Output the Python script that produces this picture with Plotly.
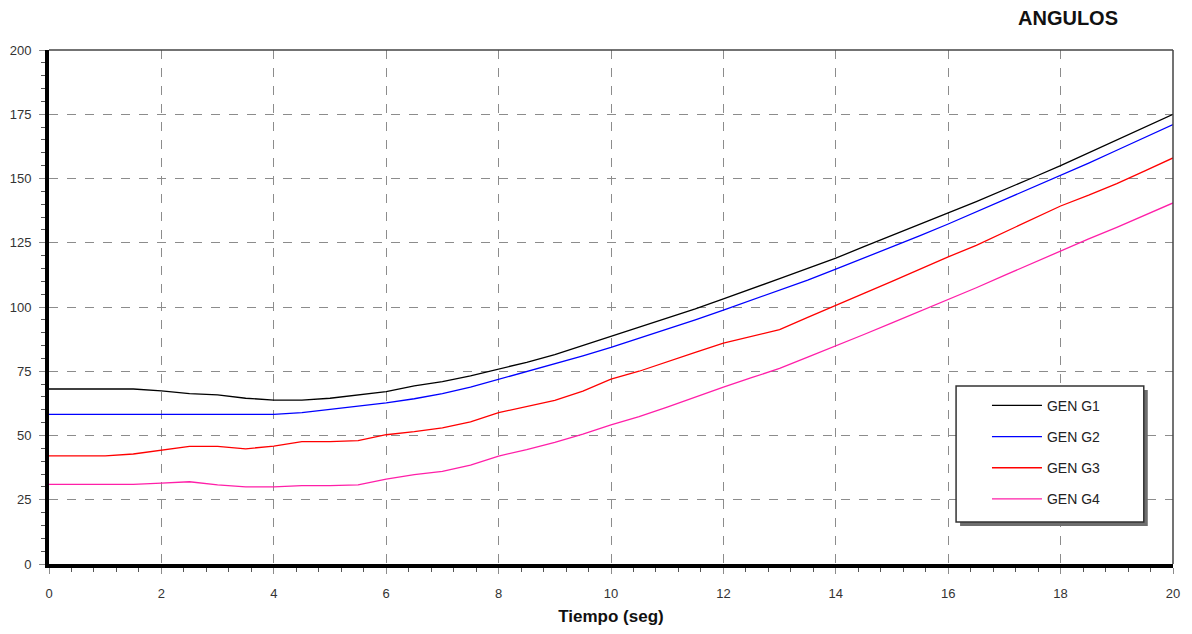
import plotly.graph_objects as go

# ---- data ----
tiempo = [0, 0.5, 1, 1.5, 2, 2.5, 3, 3.5, 4, 4.5, 5, 5.5, 6, 6.5, 7, 7.5, 8, 8.5, 9, 9.5,
          10, 10.5, 11, 11.5, 12, 12.5, 13, 13.5, 14, 14.5, 15, 15.5, 16, 16.5, 17, 17.5,
          18, 18.5, 19, 19.5, 20]

gen_g1 = [68.1, 68.1, 68.1, 68.1, 67.4, 66.3, 65.8, 64.5, 63.8, 63.8, 64.5, 65.8, 67.1, 69.3,
          71.0, 73.2, 75.8, 78.5, 81.5, 85.0, 88.5, 92.0, 95.5, 99.3, 103.2, 107.0, 111.0,
          115.0, 119.0, 123.5, 127.8, 132.0, 136.6, 141.0, 145.5, 150.3, 155.0, 160.0, 164.8,
          170.0, 175.0]
gen_g2 = [58.2, 58.2, 58.2, 58.2, 58.2, 58.2, 58.2, 58.2, 58.2, 58.9, 60.2, 61.6, 62.7, 64.3,
          66.3, 68.8, 71.9, 74.8, 77.8, 81.0, 84.3, 87.8, 91.3, 95.0, 98.8, 102.6, 106.5,
          110.5, 114.7, 119.0, 123.3, 127.8, 132.3, 137.0, 141.7, 146.5, 151.3, 156.0, 161.0,
          166.0, 171.0]
gen_g3 = [42.1, 42.1, 42.1, 42.8, 44.4, 45.8, 45.8, 44.8, 45.9, 47.6, 47.6, 48.0, 50.3, 51.5,
          53.0, 55.3, 58.9, 61.3, 63.7, 67.3, 71.9, 75.0, 78.5, 82.3, 85.9, 88.5, 91.2, 96.0,
          100.8, 105.3, 110.0, 114.8, 119.5, 124.0, 129.0, 134.0, 139.3, 143.5, 148.0, 153.0,
          158.0]
gen_g4 = [31.0, 31.0, 31.0, 31.0, 31.5, 32.0, 30.8, 30.0, 30.0, 30.5, 30.5, 30.8, 33.0, 34.8,
          36.0, 38.5, 42.0, 44.5, 47.3, 50.5, 54.1, 57.3, 61.0, 65.0, 68.8, 72.5, 76.1, 80.5,
          84.8, 89.3, 93.8, 98.3, 102.7, 107.5, 112.3, 117.0, 122.0, 126.5, 131.0, 135.7,
          140.5]

series_names = ["GEN G1", "GEN G2", "GEN G3", "GEN G4"]
series_values = [gen_g1, gen_g2, gen_g3, gen_g4]
series_colors = ["#000000", "#0000ff", "#ff0000", "#ff1fa8"]

x_ticks = list(range(0, 21, 2))
y_ticks = list(range(0, 201, 25))

FONT = "Arial, 'Liberation Sans', sans-serif"

fig = go.Figure()
for i, (name, vals, col) in enumerate(zip(series_names, series_values, series_colors)):
    fig.add_trace(go.Scatter(
        x=tiempo, y=vals, mode="lines", name=name,
        line=dict(color=col, width=1.3),
        legendgroup=f"g{i}",
    ))

axis_common = dict(
    showgrid=True, gridcolor="#8c8c8c", gridwidth=1, griddash="dash",
    zeroline=False, showline=True, linecolor="#000000", linewidth=4,
    ticks="outside", tickcolor="#8c8c8c", ticklen=6, tickwidth=1,
    tickfont=dict(family=FONT, size=13, color="#333333"),
    automargin=False,
)

fig.update_xaxes(
    range=[0, 20], tickvals=x_ticks, ticktext=[str(v) for v in x_ticks],
    ticklabelstandoff=8,
    minor=dict(dtick=0.4, ticks="outside", ticklen=4, tickcolor="#555555", showgrid=False),
    title=dict(text="<b>Tiempo (seg)</b>", font=dict(family=FONT, size=17, color="#111111"),
               standoff=12),
    **axis_common,
)
fig.update_yaxes(
    range=[0, 200], tickvals=y_ticks, ticktext=[str(v) for v in y_ticks],
    ticklabelstandoff=5,
    minor=dict(dtick=5, ticks="outside", ticklen=4, tickcolor="#555555", showgrid=False),
    **axis_common,
)

# legend box (with drop shadow)
bx0, bx1, by0, by1 = 0.807, 0.974, 0.0817, 0.3463
sx, sy = 4 / 1124, 4 / 514
shapes = [
    dict(type="rect", xref="paper", yref="paper", x0=bx0 + sx, x1=bx1 + sx, y0=by0 - sy, y1=by1 - sy,
         fillcolor="#6e6e6e", line=dict(width=0), layer="above"),
    dict(type="rect", xref="paper", yref="paper", x0=bx0, x1=bx1, y0=by0, y1=by1,
         fillcolor="#ffffff", line=dict(color="#333333", width=1.5), layer="above"),
    # top and right frame lines
    dict(type="line", xref="paper", yref="paper", x0=0, x1=1, y0=1, y1=1,
         line=dict(color="#444444", width=1.5), layer="above"),
    dict(type="line", xref="paper", yref="paper", x0=1, x1=1, y0=0, y1=1,
         line=dict(color="#444444", width=1.5), layer="above"),
]

fig.update_layout(
    width=1192, height=634,
    margin=dict(l=49, r=19, t=50, b=70),
    paper_bgcolor="#ffffff", plot_bgcolor="#ffffff",
    font=dict(family=FONT, color="#222222"),
    shapes=shapes,
    showlegend=True,
    legend=dict(
        x=0.8345, y=0.339, xanchor="left", yanchor="top",
        bgcolor="rgba(0,0,0,0)", borderwidth=0,
        font=dict(family=FONT, size=14, color="#222222"),
        tracegroupgap=10, itemwidth=50,
    ),
    annotations=[dict(
        text="<b>ANGULOS</b>", xref="paper", yref="paper", x=0.9066, y=1.063,
        xanchor="center", yanchor="middle", showarrow=False,
        font=dict(family=FONT, size=20, color="#111111"),
    )],
)

fig.write_html("out.html")
